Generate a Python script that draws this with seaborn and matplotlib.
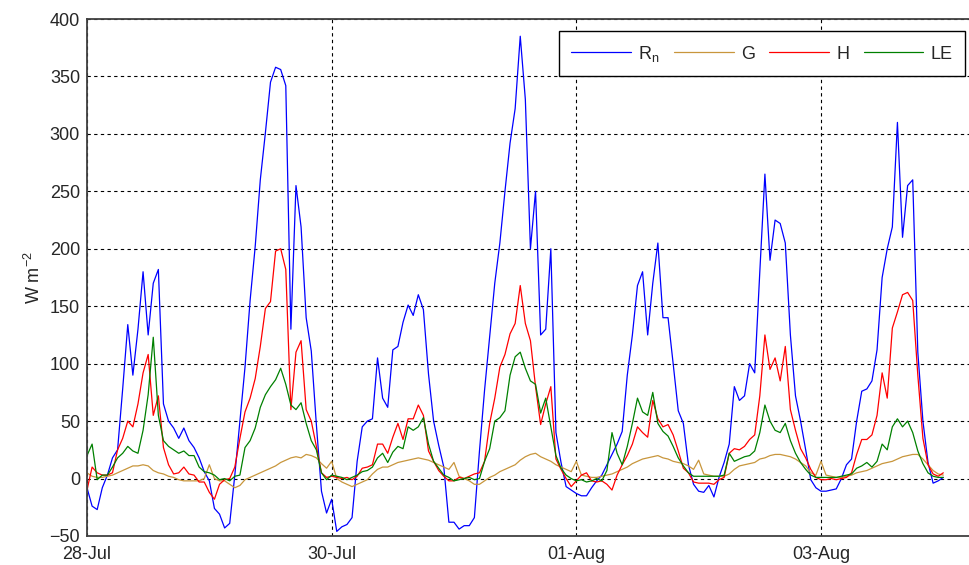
import numpy as np
import pandas as pd
import matplotlib
matplotlib.use('Agg')
import matplotlib.pyplot as plt
import seaborn as sns

# ---- data (hourly, starting 28-Jul 00:00) ----
start = '2013-07-28 00:00'

rn = [-8, -24, -27, -8, 3, 18, 25, 78, 134, 90, 130, 180, 125, 170, 182, 65, 50, 44, 35, 44, 33, 27, 18, 6,
      -2, -26, -31, -43, -39, 3, 50, 97, 155, 202, 260, 301, 345, 358, 356, 342, 130, 255, 219, 140, 111, 47, -11, -30,
      -18, -46, -42, -40, -34, 15, 45, 50, 52, 105, 70, 62, 112, 115, 136, 151, 142, 160, 147, 91, 50, 29, 10, -38,
      -38, -44, -41, -41, -34, 24, 77, 123, 170, 205, 250, 292, 322, 385, 330, 200, 250, 125, 130, 200, 40, 14, -7, -10,
      -13, -15, -15, -8, -2, 3, 12, 21, 30, 41, 90, 125, 168, 180, 125, 170, 205, 140, 140, 100, 59, 48, 12, -5,
      -11, -12, -6, -16, 1, 14, 30, 80, 68, 72, 100, 92, 180, 265, 190, 225, 222, 205, 125, 72, 50, 25, -1, -8,
      -11, -11, -10, -9, 0, 12, 17, 50, 76, 78, 85, 112, 175, 200, 219, 310, 210, 255, 260, 110, 50, 14, -4, -2, 1]

g = [5, 2, 1, 1, 2, 3, 5, 7, 9, 11, 11, 12, 11, 7, 5, 4, 2, 1, -1, -2, -2, -2, -2, 0,
     12, 0, -2, -2, -5, -8, -6, -1, 1, 3, 5, 7, 9, 11, 14, 16, 18, 19, 18, 21, 20, 18, 13, 9,
     15, 0, -3, -5, -7, -5, -3, -1, 4, 8, 10, 10, 12, 14, 15, 16, 17, 18, 17, 16, 14, 12, 10, 8,
     14, 2, 0, -2, -5, -5, -2, 1, 3, 6, 8, 10, 12, 16, 19, 21, 22, 19, 17, 15, 12, 10, 8, 6,
     15, 3, 2, 1, 1, 2, 3, 4, 6, 8, 10, 13, 15, 17, 18, 19, 20, 18, 17, 15, 14, 13, 11, 8,
     16, 4, 3, 2, 2, 2, 4, 8, 11, 12, 13, 14, 17, 18, 20, 21, 21, 20, 19, 17, 14, 11, 5, 3,
     15, 3, 2, 1, 1, 2, 3, 5, 6, 7, 9, 11, 13, 14, 15, 17, 19, 20, 21, 21, 17, 12, 7, 4, 3]

h = [-10, 10, 5, 3, 3, 5, 25, 35, 50, 45, 65, 92, 108, 55, 72, 27, 12, 4, 5, 10, 4, 3, -3, -3,
     -12, -18, -5, -1, 0, 10, 35, 58, 70, 87, 115, 148, 154, 198, 200, 182, 60, 110, 120, 60, 50, 28, 5, 1,
     2, 1, 0, 1, -1, 2, 9, 10, 12, 30, 30, 22, 36, 48, 34, 52, 52, 64, 55, 24, 15, 7, 2, -2,
     -2, 1, 0, 2, 4, 5, 15, 48, 70, 97, 108, 126, 135, 168, 135, 120, 80, 47, 65, 80, 17, 8, 0, -7,
     -2, 3, 5, -2, -3, -2, -5, -10, 3, 12, 20, 30, 45, 40, 36, 68, 52, 45, 47, 38, 24, 9, 5, -3,
     -4, -4, -4, -5, -1, 1, 22, 26, 25, 28, 34, 38, 72, 125, 95, 105, 85, 115, 60, 42, 26, 18, 8, 1,
     -1, -1, 0, -1, 0, 1, 5, 21, 34, 34, 38, 55, 92, 70, 131, 145, 160, 162, 155, 90, 35, 12, 4, 2, 5]

le = [20, 30, -1, 3, 3, 10, 18, 22, 28, 24, 22, 42, 73, 123, 55, 33, 28, 25, 22, 24, 20, 20, 10, 6,
      5, 3, -1, 0, -2, 2, 3, 27, 33, 44, 62, 73, 80, 86, 96, 82, 64, 60, 66, 48, 33, 25, 5, -1,
      3, 2, 1, -1, 1, 3, 6, 7, 10, 18, 22, 14, 23, 28, 26, 45, 42, 45, 53, 30, 15, 9, 3, 1,
      -2, -1, 0, 1, -1, 0, 15, 26, 50, 53, 59, 90, 106, 110, 96, 85, 82, 57, 70, 45, 20, 9, 3, 0,
      -2, -1, -3, -2, 0, -2, 7, 40, 22, 12, 28, 48, 70, 58, 55, 75, 48, 41, 37, 28, 18, 11, 5, 2,
      2, 2, 2, 2, 2, 3, 22, 15, 17, 19, 20, 24, 40, 64, 50, 42, 40, 48, 33, 22, 14, 8, 3, 1,
      1, 1, 1, 1, 2, 3, 4, 9, 11, 14, 10, 15, 30, 25, 45, 52, 45, 50, 40, 24, 13, 5, 2, 1, 1]

series_names = [r'R$_\mathregular{n}$', 'G', 'H', 'LE']
series_colors = ['#0000FF', '#C8963C', '#FF0000', '#008000']
tick_dates = ['2013-07-28', '2013-07-30', '2013-08-01', '2013-08-03']
tick_labels = ['28-Jul', '30-Jul', '01-Aug', '03-Aug']
y_ticks = [-50, 0, 50, 100, 150, 200, 250, 300, 350, 400]
y_label = r'W m$^{\mathregular{-2}}$'

# ---- build long table ----
times = pd.date_range(start, periods=len(rn), freq='h')
df = pd.DataFrame({
    'time': np.concatenate([times.values] * 4),
    'value': rn + g + h + le,
    'series': np.repeat(series_names, len(times)),
})

sns.set_style('white')
plt.rcParams['font.family'] = ['Liberation Sans', 'DejaVu Sans']
plt.rcParams['mathtext.fontset'] = 'custom'
plt.rcParams['mathtext.rm'] = 'Liberation Sans'
plt.rcParams['mathtext.it'] = 'Liberation Sans'

fig = plt.figure(figsize=(9.69, 5.65), dpi=100)
ax = fig.add_axes([87 / 969, 29 / 565, 893 / 969, 517 / 565])

sns.lineplot(data=df, x='time', y='value', hue='series', hue_order=series_names,
             palette=series_colors, linewidth=0.9, ax=ax)

t0 = pd.Timestamp(start)
ax.set_xlim(t0, t0 + pd.Timedelta(days=7.3))
ax.set_ylim(-50, 400)
ax.set_xticks(pd.to_datetime(tick_dates))
ax.set_xticklabels(tick_labels)
ax.set_yticks(y_ticks)
ax.set_xlabel('')
ax.set_ylabel(y_label, fontsize=13, color='#262626', labelpad=4)

ax.grid(True, color='black', linestyle=(0, (3, 3)), linewidth=0.8)
ax.tick_params(direction='in', length=4, labelsize=13, labelcolor='#262626', color='#404040')
ax.tick_params(axis='x', pad=7)
ax.tick_params(axis='y', pad=5)
for s in ax.spines.values():
    s.set_color('#404040')
    s.set_linewidth(1.3)

handles, labels = ax.get_legend_handles_labels()
leg = ax.legend(handles, labels, ncol=4, loc='upper right',
                bbox_to_anchor=(965 / 969, 1 - 31 / 565), bbox_transform=fig.transFigure,
                frameon=True, fancybox=False, edgecolor='black', framealpha=1,
                handlelength=3.3, handletextpad=0.4, columnspacing=0.8,
                borderpad=0.7, fontsize=13, borderaxespad=0)
leg.get_frame().set_linewidth(1.0)

fig.savefig('out.png', dpi=100)
